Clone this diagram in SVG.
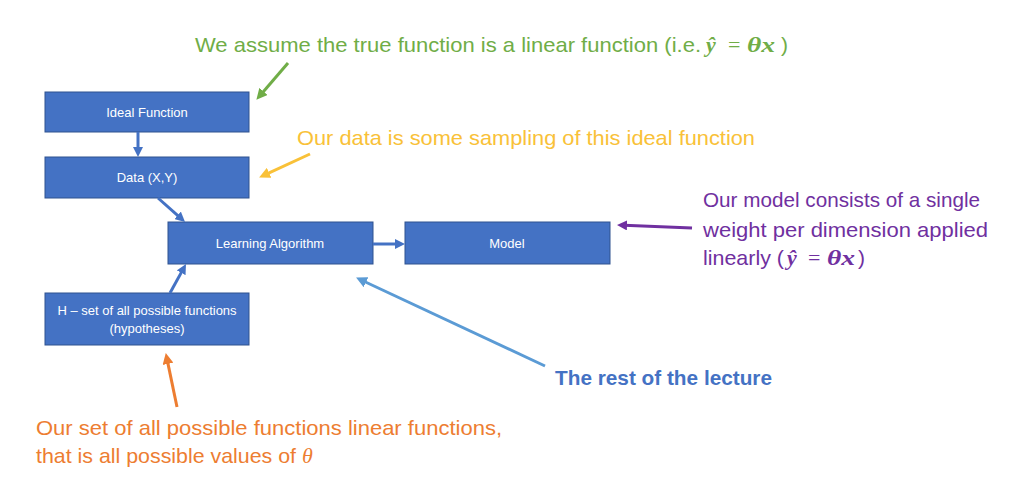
<svg xmlns="http://www.w3.org/2000/svg" width="1015" height="489" viewBox="0 0 1015 489">
  <defs>
    <style>
      .box { fill: #4472C4; stroke: #2F528F; stroke-width: 1; }
      .lbl { font-family: "Liberation Sans", Arial, sans-serif; font-size: 13px; fill: #FFFFFF; text-anchor: middle; }
      .ann { font-family: "Liberation Sans", Arial, sans-serif; font-size: 21px; }
      .math { font-family: "Liberation Serif", "Times New Roman", serif; font-size: 22px; font-weight: bold; font-style: italic; }
      .eq { font-family: "Liberation Serif", "Times New Roman", serif; font-size: 22px; }
      .conn { stroke: #4472C4; stroke-width: 3; fill: none; }
      .a { stroke-width: 3; fill: none; }
    </style>
    <marker id="hb" markerUnits="userSpaceOnUse" markerWidth="10" markerHeight="10" refX="3" refY="5" orient="auto"><path d="M0,0 L10,5 L0,10 z" fill="#4472C4"/></marker>
    <marker id="hg" markerUnits="userSpaceOnUse" markerWidth="11" markerHeight="11" refX="3" refY="5.5" orient="auto"><path d="M0,0 L11,5.5 L0,11 z" fill="#70AD47"/></marker>
    <marker id="hy" markerUnits="userSpaceOnUse" markerWidth="11" markerHeight="11" refX="3" refY="5.5" orient="auto"><path d="M0,0 L11,5.5 L0,11 z" fill="#F9C138"/></marker>
    <marker id="hp" markerUnits="userSpaceOnUse" markerWidth="10" markerHeight="10" refX="3" refY="5" orient="auto"><path d="M0,0 L10,5 L0,10 z" fill="#7030A0"/></marker>
    <marker id="hl" markerUnits="userSpaceOnUse" markerWidth="11" markerHeight="11" refX="3" refY="5.5" orient="auto"><path d="M0,0 L11,5.5 L0,11 z" fill="#5B9BD5"/></marker>
    <marker id="ho" markerUnits="userSpaceOnUse" markerWidth="11" markerHeight="11" refX="3" refY="5.5" orient="auto"><path d="M0,0 L11,5.5 L0,11 z" fill="#ED7D31"/></marker>
  </defs>
  <rect width="1015" height="489" fill="#FFFFFF"/>

  <g id="ideal-function">
    <rect class="box" x="45" y="92" width="204" height="40"/>
    <text class="lbl" x="147" y="117">Ideal Function</text>
  </g>
  <g id="data">
    <rect class="box" x="45" y="157" width="204" height="41"/>
    <text class="lbl" x="147" y="182">Data (X,Y)</text>
  </g>
  <g id="learning-algorithm">
    <rect class="box" x="168" y="222" width="205" height="42"/>
    <text class="lbl" x="270" y="248">Learning Algorithm</text>
  </g>
  <g id="model">
    <rect class="box" x="405" y="222" width="205" height="42"/>
    <text class="lbl" x="507" y="248">Model</text>
  </g>
  <g id="hypotheses">
    <rect class="box" x="45" y="293" width="204" height="52"/>
    <text class="lbl" x="147" y="315">H – set of all possible functions</text>
    <text class="lbl" x="147" y="333">(hypotheses)</text>
  </g>

  <g id="connectors">
    <line class="conn" x1="138" y1="132" x2="138" y2="150" marker-end="url(#hb)"/>
    <line class="conn" x1="158" y1="198" x2="179.8" y2="217.3" marker-end="url(#hb)"/>
    <line class="conn" x1="170" y1="293" x2="182.6" y2="270.1" marker-end="url(#hb)"/>
    <line class="conn" x1="373" y1="244" x2="398" y2="244" marker-end="url(#hb)"/>
  </g>

  <g id="annotations">
    <line class="a" stroke="#70AD47" x1="288" y1="63" x2="261.6" y2="93.7" marker-end="url(#hg)"/>
    <line class="a" stroke="#F9C138" x1="310" y1="154" x2="266.4" y2="174.1" marker-end="url(#hy)"/>
    <line class="a" stroke="#7030A0" stroke-width="2.5" x1="692" y1="228" x2="624" y2="225.3" marker-end="url(#hp)"/>
    <line class="a" stroke="#5B9BD5" x1="545" y1="366" x2="363.3" y2="281" marker-end="url(#hl)"/>
    <line class="a" stroke="#ED7D31" x1="177" y1="407" x2="167.4" y2="360.9" marker-end="url(#ho)"/>

    <g id="note-green" fill="#70AD47">
      <text class="ann" x="195" y="52" textLength="506" lengthAdjust="spacingAndGlyphs">We assume the true function is a linear function (i.e.</text>
      <text class="math" x="706" y="52">ŷ</text>
      <text class="eq" x="728" y="52">=</text>
      <text class="math" x="747" y="52" textLength="28" lengthAdjust="spacingAndGlyphs">θx</text>
      <text class="ann" x="781" y="52">)</text>
    </g>

    <text id="note-yellow" class="ann" fill="#F9C138" x="297" y="145" textLength="458" lengthAdjust="spacingAndGlyphs">Our data is some sampling of this ideal function</text>

    <g id="note-purple" fill="#7030A0">
      <text class="ann" x="703" y="207" textLength="277" lengthAdjust="spacingAndGlyphs">Our model consists of a single</text>
      <text class="ann" x="703" y="237" textLength="285" lengthAdjust="spacingAndGlyphs">weight per dimension applied</text>
      <text class="ann" x="703" y="265" textLength="81" lengthAdjust="spacingAndGlyphs">linearly (</text>
      <text class="math" x="787" y="265">ŷ</text>
      <text class="eq" x="808" y="265">=</text>
      <text class="math" x="827" y="265" textLength="28" lengthAdjust="spacingAndGlyphs">θx</text>
      <text class="ann" x="858" y="265">)</text>
    </g>

    <text id="note-blue" class="ann" fill="#4472C4" font-weight="bold" x="555" y="385" textLength="217" lengthAdjust="spacingAndGlyphs">The rest of the lecture</text>

    <g id="note-orange" fill="#ED7D31">
      <text class="ann" x="36" y="435" textLength="466" lengthAdjust="spacingAndGlyphs">Our set of all possible functions linear functions,</text>
      <text class="ann" x="36" y="463" textLength="260" lengthAdjust="spacingAndGlyphs">that is all possible values of</text>
      <text x="302" y="463" font-family="Liberation Serif, serif" font-style="italic" font-size="22">θ</text>
    </g>
  </g>
</svg>
